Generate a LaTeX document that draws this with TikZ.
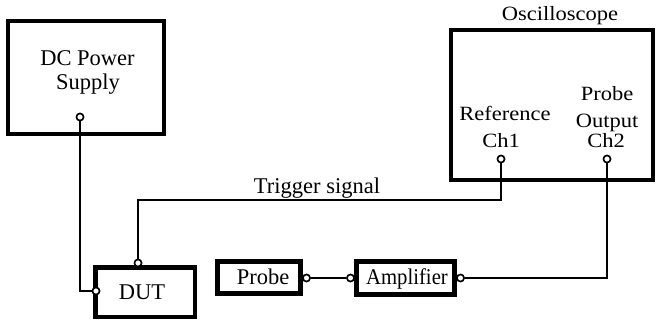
\documentclass[tikz,border=0pt]{standalone}
\usepackage{fontspec}
\usepackage{graphicx}
\setmainfont{Liberation Serif}
\begin{document}
\begin{tikzpicture}[x=1pt,y=-1pt,
  box/.style={draw=black,line width=4.5pt,fill=white,inner sep=0pt,rectangle},
  port/.style={circle,draw=black,line width=1.5pt,fill=white,inner sep=0pt,minimum size=7pt},
  wire/.style={draw=black,line width=1.3pt},
  lbl/.style={anchor=base,inner sep=0pt,font=\fontsize{22.5}{25}\selectfont}]
\useasboundingbox (0,0) rectangle (660,323);
% boxes
\node[box,minimum width=156pt,minimum height=113pt] (dc) at (86,77.5) {};
\node[box,minimum width=202pt,minimum height=150pt] (osc) at (552,105) {};
\node[box,minimum width=99.5pt,minimum height=49.5pt] (dut) at (145.25,292.25) {};
\node[box,minimum width=83pt,minimum height=32pt] (probe) at (259,277.5) {};
\node[box,minimum width=98pt,minimum height=33pt] (amp) at (405.5,278) {};
% texts
\node[lbl] (t1) at (87.5,66) {DC Power};
\node[lbl] (t2) at (88,90) {Supply};
\node[lbl] (t3) at (560,20.5) {\scalebox{1}[0.9]{Oscilloscope}};
\node[lbl] (t4) at (505,120.5) {\scalebox{1}[0.9]{Reference}};
\node[lbl] (t5) at (501,148) {\scalebox{1}[0.9]{Ch1}};
\node[lbl] (t6) at (607,100.5) {\scalebox{1}[0.9]{Probe}};
\node[lbl] (t7) at (607,128) {\scalebox{1}[0.9]{Output}};
\node[lbl] (t8) at (606,147) {\scalebox{1}[0.9]{Ch2}};
\node[lbl] (t9) at (317,193) {Trigger signal};
\node[lbl] (t10) at (142,299) {DUT};
\node[lbl] (t11) at (263,284) {Probe};
\node[lbl] (t12) at (407,284) {\scalebox{0.92}[1]{Amplifier}};
% ports
\node[port] (dcp) at (80,117) {};
\node[port] (ch1) at (501,159) {};
\node[port] (ch2) at (607,159) {};
\node[port] (dutT) at (138,263) {};
\node[port] (dutL) at (96,291) {};
\node[port] (prR) at (306.5,278) {};
\node[port] (ampL) at (350.5,278) {};
\node[port] (ampR) at (460.5,278) {};
\coordinate (trigR) at (501,200);
\coordinate (trigL) at (138,200);
% wires
\draw[wire] (dcp.south) |- (dutL.west);
\draw[wire] (ch1.south) -- (trigR) -- (trigL) -- (dutT.north);
\draw[wire] (prR.east) -- (ampL.west);
\draw[wire] (ampR.east) -| (ch2.south);
% redraw ports on top
\foreach \p in {dcp,ch1,ch2,dutT,dutL,prR,ampL,ampR}{
  \draw[black,line width=1.5pt,fill=white] (\p.center) circle (3.5pt);
}
\end{tikzpicture}
\end{document}
